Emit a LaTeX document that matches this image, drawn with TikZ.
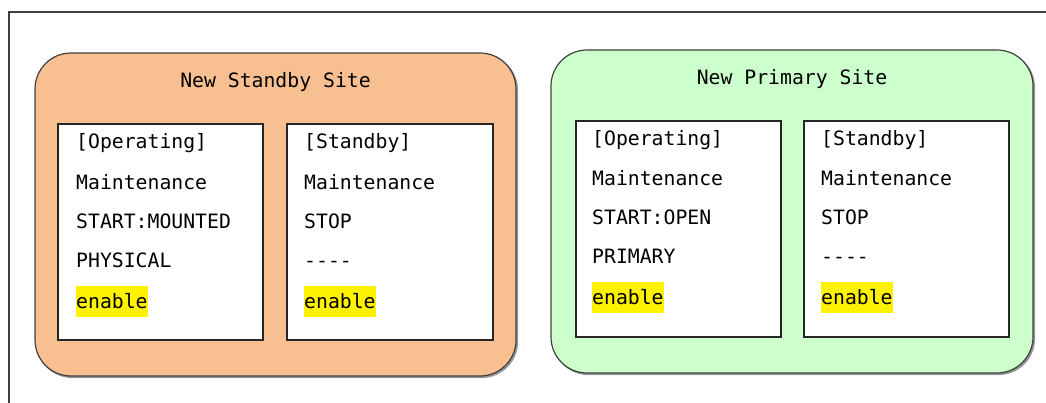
\documentclass[tikz,border=0pt]{standalone}
\usepackage{fontspec}
\newfontfamily\dmono{DejaVu Sans Mono}
\definecolor{sitea}{RGB}{248,192,144}
\definecolor{siteb}{RGB}{204,255,204}
\definecolor{edge}{RGB}{64,64,64}
\definecolor{shade}{RGB}{150,150,150}
\tikzset{
  site/.style={draw=edge, line width=1.2pt, rounded corners=36pt, inner sep=0pt},
  inbox/.style={draw=black!85, fill=white, line width=1.3pt, inner sep=0pt},
  txt/.style={anchor=base west, inner sep=0pt, font=\dmono\fontsize{19.77}{22}\selectfont},
  ttl/.style={anchor=base, inner sep=0pt, font=\dmono\fontsize{19.77}{22}\selectfont},
  hl/.style={txt, fill=yellow, text height=22pt, text depth=9pt},
}
\begin{document}
\begin{tikzpicture}[x=1pt,y=-1pt]
\useasboundingbox (0,0) rectangle (1046,403);
% outer frame
\coordinate (fa) at (9,403);
\coordinate (fb) at (9,12);
\coordinate (fc) at (1046,12);
\draw[edge, line width=1.5pt] (fa) -- (fb) -- (fc);
% site shadows
\node[site, draw=shade, fill=shade, minimum width=481pt, minimum height=323pt] (sAs) at (277,216) {};
\node[site, draw=shade, fill=shade, minimum width=482pt, minimum height=323pt] (sBs) at (793.5,213) {};
% sites
\node[site, fill=sitea, minimum width=481pt, minimum height=323pt] (sA) at (275.5,214.5) {};
\node[site, fill=siteb, minimum width=482pt, minimum height=323pt] (sB) at (792,211.5) {};
\node[ttl] (tA) at (275.5,88) {New Standby Site};
\node[ttl] (tB) at (792,85) {New Primary Site};
% inner boxes
\node[inbox, minimum width=205pt, minimum height=216pt] (a1) at (160.5,232) {};
\node[inbox, minimum width=206pt, minimum height=216pt] (a2) at (390,232) {};
\node[inbox, minimum width=205pt, minimum height=216pt] (b1) at (678.5,229) {};
\node[inbox, minimum width=205pt, minimum height=216pt] (b2) at (906.5,229) {};
% left site texts
\node[txt] (a1l1) at (76,149) {[Operating]};
\node[txt] (a1l2) at (76,190) {Maintenance};
\node[txt] (a1l3) at (76,229) {START:MOUNTED};
\node[txt] (a1l4) at (76,267) {PHYSICAL};
\node[hl]  (a1l5) at (76,308) {enable};
\node[txt] (a2l1) at (304,149) {[Standby]};
\node[txt] (a2l2) at (304,190) {Maintenance};
\node[txt] (a2l3) at (304,229) {STOP};
\node[txt] (a2l4) at (304,267) {----};
\node[hl]  (a2l5) at (304,308) {enable};
% right site texts
\node[txt] (b1l1) at (592,146) {[Operating]};
\node[txt] (b1l2) at (592,186) {Maintenance};
\node[txt] (b1l3) at (592,225) {START:OPEN};
\node[txt] (b1l4) at (592,264) {PRIMARY};
\node[hl]  (b1l5) at (592,304) {enable};
\node[txt] (b2l1) at (821,146) {[Standby]};
\node[txt] (b2l2) at (821,186) {Maintenance};
\node[txt] (b2l3) at (821,225) {STOP};
\node[txt] (b2l4) at (821,264) {----};
\node[hl]  (b2l5) at (821,304) {enable};
\end{tikzpicture}
\end{document}
